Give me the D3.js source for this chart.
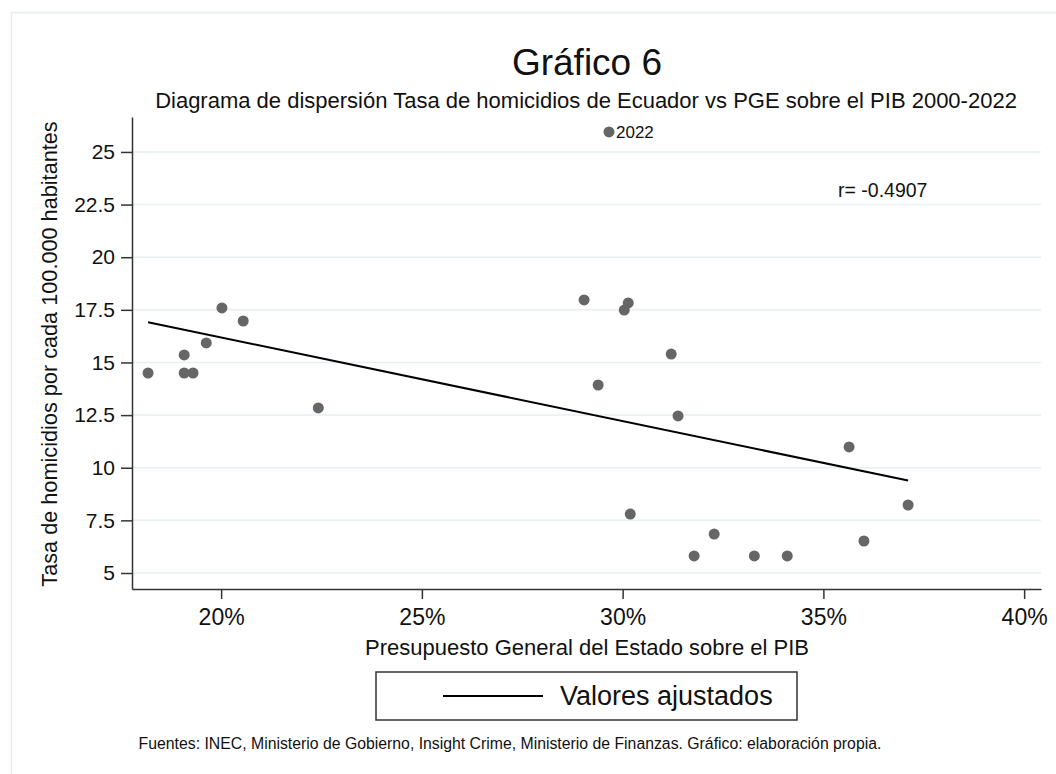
<!DOCTYPE html>
<html lang="es">

<head>
  <meta charset="UTF-8">
  <title>Gráfico 6</title>
  <script src="https://d3js.org/d3.v7.min.js"></script>
  <style>
    body {
      margin: 0;
      background: #ffffff;
    }

    svg text {
      font-family: "Liberation Sans", Arial, sans-serif;
      fill: #111;
    }

    .grid line {
      stroke: #e6eff1;
      stroke-width: 1.5px;
    }

    .axis path,
    .axis line {
      stroke: #333;
      stroke-width: 1.5px;
    }
  </style>
</head>

<body>
  <svg width="1056" height="774"></svg>
  <script>
    // PGE sobre el PIB (%) y tasa de homicidios por 100.000 hab., 2000-2022
    const years = [2000, 2001, 2002, 2003, 2004, 2005, 2006, 2007, 2008, 2009, 2010, 2011,
      2012, 2013, 2014, 2015, 2016, 2017, 2018, 2019, 2020, 2021, 2022];
    const pge = [18.18, 19.08, 19.08, 19.30, 19.63, 20.02, 20.55, 22.42, 29.04, 29.39, 30.04, 30.14,
      31.21, 31.38, 35.64, 37.11, 30.19, 32.28, 31.78, 33.28, 36.01, 34.10, 29.66];
    const homicidios = [14.50, 15.36, 14.50, 14.50, 15.93, 17.59, 16.97, 12.84, 17.97, 13.93, 17.49, 17.83,
      15.40, 12.46, 10.99, 8.23, 7.80, 6.85, 5.81, 5.81, 6.52, 5.81, 25.95];
    const yTicks = [5, 7.5, 10, 12.5, 15, 17.5, 20, 22.5, 25];
    const xTicks = [20, 25, 30, 35, 40];
    const etiquetaAnio = 2022;
    const rTexto = "r= -0.4907";

    const svg = d3.select("svg"),
      width = +svg.attr("width"),
      height = +svg.attr("height");

    const data = years.map((y, i) => ({ anio: y, x: pge[i], y: homicidios[i] }));

    // recuadro exterior
    svg.append("rect")
      .attr("x", 11.5).attr("y", 12.5)
      .attr("width", width).attr("height", height)
      .attr("fill", "none")
      .attr("stroke", "#e4ecee")
      .attr("stroke-width", 1.5);

    const x = d3.scaleLinear().domain([17.78, 40.42]).range([132, 1041]);
    const y = d3.scaleLinear().domain([4.24, 26.66]).range([589, 117]);

    // lineas de cuadricula
    svg.append("g")
      .attr("class", "grid")
      .selectAll("line")
      .data(yTicks)
      .enter()
      .append("line")
      .attr("x1", x.range()[0]).attr("x2", x.range()[1])
      .attr("y1", d => y(d)).attr("y2", d => y(d));

    // eje Y
    const yAxis = svg.append("g")
      .attr("class", "axis")
      .attr("transform", `translate(${x.range()[0]},0)`)
      .call(d3.axisLeft(y).tickValues(yTicks).tickSize(11).tickPadding(6).tickSizeOuter(0).tickFormat(d3.format("")));
    yAxis.selectAll("text").style("font-size", "21px").attr("fill", "#111");

    // eje X
    const xAxis = svg.append("g")
      .attr("class", "axis")
      .attr("transform", `translate(0,${y.range()[0]})`)
      .call(d3.axisBottom(x).tickValues(xTicks).tickSize(10).tickPadding(10).tickSizeOuter(0).tickFormat(d => d + "%"));
    xAxis.selectAll("text").style("font-size", "23px").attr("fill", "#111");

    // recta de ajuste (MCO)
    const mx = d3.mean(data, d => d.x), my = d3.mean(data, d => d.y);
    const b = d3.sum(data, d => (d.x - mx) * (d.y - my)) / d3.sum(data, d => (d.x - mx) ** 2);
    const a = my - b * mx;
    const ext = d3.extent(data, d => d.x);
    svg.append("line")
      .attr("x1", x(ext[0])).attr("y1", y(a + b * ext[0]))
      .attr("x2", x(ext[1])).attr("y2", y(a + b * ext[1]))
      .attr("stroke", "#000")
      .attr("stroke-width", 2);

    // puntos
    svg.selectAll("circle.pt")
      .data(data)
      .enter()
      .append("circle")
      .attr("class", "pt")
      .attr("cx", d => x(d.x))
      .attr("cy", d => y(d.y))
      .attr("r", 5.5)
      .attr("fill", "#666666");

    const p22 = data.find(d => d.anio === etiquetaAnio);
    svg.append("text")
      .attr("x", x(p22.x) + 7).attr("y", y(p22.y) + 6)
      .style("font-size", "17px")
      .text(etiquetaAnio);

    svg.append("text")
      .attr("x", 838).attr("y", 197)
      .style("font-size", "19.5px")
      .text(rTexto);

    // titulos
    svg.append("text")
      .attr("x", 587).attr("y", 75)
      .attr("text-anchor", "middle")
      .style("font-size", "37px")
      .text("Gráfico 6");

    svg.append("text")
      .attr("x", 586).attr("y", 108)
      .attr("text-anchor", "middle")
      .style("font-size", "22px")
      .text("Diagrama de dispersión Tasa de homicidios de Ecuador vs PGE sobre el PIB 2000-2022");

    svg.append("text")
      .attr("transform", "translate(57,354) rotate(-90)")
      .attr("text-anchor", "middle")
      .style("font-size", "21.7px")
      .text("Tasa de homicidios por cada 100.000 habitantes");

    svg.append("text")
      .attr("x", 587).attr("y", 655)
      .attr("text-anchor", "middle")
      .style("font-size", "22px")
      .text("Presupuesto General del Estado sobre el PIB");

    // leyenda
    const leg = svg.append("g").attr("transform", "translate(376,672)");
    leg.append("rect")
      .attr("width", 421).attr("height", 48)
      .attr("fill", "#fff")
      .attr("stroke", "#333")
      .attr("stroke-width", 1.5);
    leg.append("line")
      .attr("x1", 67).attr("x2", 167)
      .attr("y1", 24).attr("y2", 24)
      .attr("stroke", "#000").attr("stroke-width", 2);
    leg.append("text")
      .attr("x", 184).attr("y", 33)
      .style("font-size", "27px")
      .text("Valores ajustados");

    // fuente
    svg.append("text")
      .attr("x", 510).attr("y", 749)
      .attr("text-anchor", "middle")
      .style("font-size", "15.8px")
      .text("Fuentes: INEC, Ministerio de Gobierno, Insight Crime, Ministerio de Finanzas. Gráfico: elaboración propia.");
  </script>
</body>

</html>
